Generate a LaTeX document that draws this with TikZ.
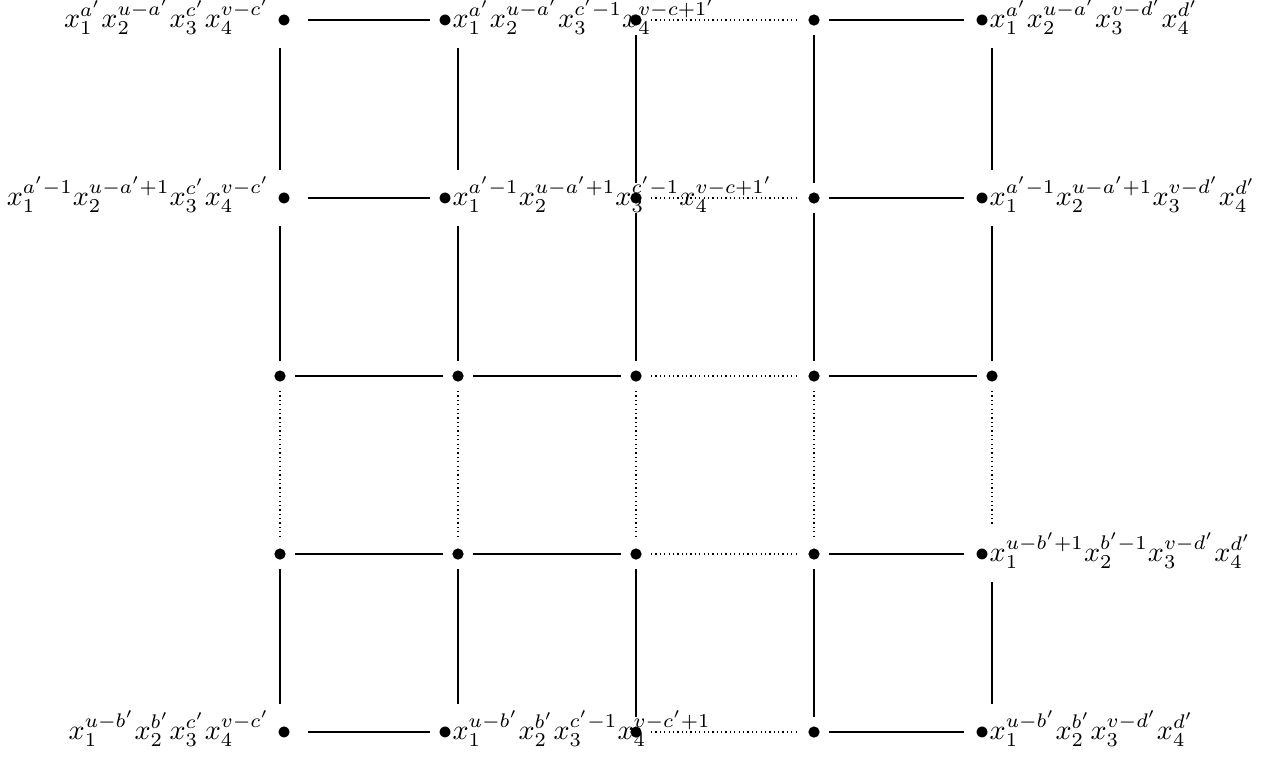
\documentclass[tikz,border=0pt]{standalone}
\usepackage{tikz}

\begin{document}
\begin{tikzpicture}[
    pt/.style={circle, fill, inner sep=0pt, minimum size=3.6pt, outer sep=3pt},
    hub/.style={circle, inner sep=0pt, minimum size=3.6pt, outer sep=7.2pt},
    lblL/.style={anchor=base east, inner sep=0pt, scale=0.9, transform shape},
    lblR/.style={anchor=base west, inner sep=0pt, scale=0.9, transform shape},
    gap/.style={densely dotted}
]
\useasboundingbox (-3.146,0.225) rectangle (11.157,-8.29);

% grid points (first digit = row, second = column)
\node[hub] (n00) at (0,0) {};  \node[hub] (n01) at (2,0) {};  \node[pt] (n02) at (4,0) {};  \node[pt] (n03) at (6,0) {};  \node[hub] (n04) at (8,0) {};
\node[hub] (n10) at (0,-2) {}; \node[hub] (n11) at (2,-2) {}; \node[pt] (n12) at (4,-2) {}; \node[pt] (n13) at (6,-2) {}; \node[hub] (n14) at (8,-2) {};
\node[pt]  (n20) at (0,-4) {}; \node[pt]  (n21) at (2,-4) {}; \node[pt] (n22) at (4,-4) {}; \node[pt] (n23) at (6,-4) {}; \node[pt]  (n24) at (8,-4) {};
\node[pt]  (n30) at (0,-6) {}; \node[pt]  (n31) at (2,-6) {}; \node[pt] (n32) at (4,-6) {}; \node[pt] (n33) at (6,-6) {}; \node[hub] (n34) at (8,-6) {};
\node[hub] (n40) at (0,-8) {}; \node[hub] (n41) at (2,-8) {}; \node[pt] (n42) at (4,-8) {}; \node[pt] (n43) at (6,-8) {}; \node[hub] (n44) at (8,-8) {};

% monomials
\node[lblL] (t00) at ([shift={(0.135,-0.079)}]n00) {$x_1^{a'}x_2^{u-a'}x_3^{c'}x_4^{v-c'}\;\bullet$};
\node[lblR] (t01) at ([shift={(-0.225,-0.079)}]n01) {$\bullet x_1^{a'}x_2^{u-a'}x_3^{c'-1}x_4^{v-c+1'}$};
\node[lblR] (t04) at ([shift={(-0.191,-0.079)}]n04) {$\bullet x_1^{a'}x_2^{u-a'}x_3^{v-d'}x_4^{d'}$};
\node[lblL] (t10) at ([shift={(0.135,-0.079)}]n10) {$x_1^{a'-1}x_2^{u-a'+1}x_3^{c'}x_4^{v-c'}\;\bullet$};
\node[lblR] (t11) at ([shift={(-0.225,-0.079)}]n11) {$\bullet x_1^{a'-1}x_2^{u-a'+1}x_3^{c'-1}x_4^{v-c+1'}$};
\node[lblR] (t14) at ([shift={(-0.191,-0.079)}]n14) {$\bullet x_1^{a'-1}x_2^{u-a'+1}x_3^{v-d'}x_4^{d'}$};
\node[lblR] (t34) at ([shift={(-0.191,-0.079)}]n34) {$\bullet x_1^{u-b'+1}x_2^{b'-1}x_3^{v-d'}x_4^{d'}$};
\node[lblL] (t40) at ([shift={(0.135,-0.079)}]n40) {$x_1^{u-b'}x_2^{b'}x_3^{c'}x_4^{v-c'}\;\bullet$};
\node[lblR] (t41) at ([shift={(-0.225,-0.079)}]n41) {$\bullet x_1^{u-b'}x_2^{b'}x_3^{c'-1}x_4^{v-c'+1}$};
\node[lblR] (t44) at ([shift={(-0.191,-0.079)}]n44) {$\bullet x_1^{u-b'}x_2^{b'}x_3^{v-d'}x_4^{d'}$};

% vertical edges
\foreach \c in {0,...,4} {
  \draw (n0\c) -- (n1\c);
  \draw (n1\c) -- (n2\c);
  \draw[gap] (n2\c) -- (n3\c);
  \draw (n3\c) -- (n4\c);
}
% horizontal edges
\foreach \r in {0,...,4} {
  \draw (n\r0) -- (n\r1);
  \draw[gap] (n\r2) -- (n\r3);
  \draw (n\r3) -- (n\r4);
}
\draw (n21) -- (n22);
\draw (n31) -- (n32);
\end{tikzpicture}
\end{document}
